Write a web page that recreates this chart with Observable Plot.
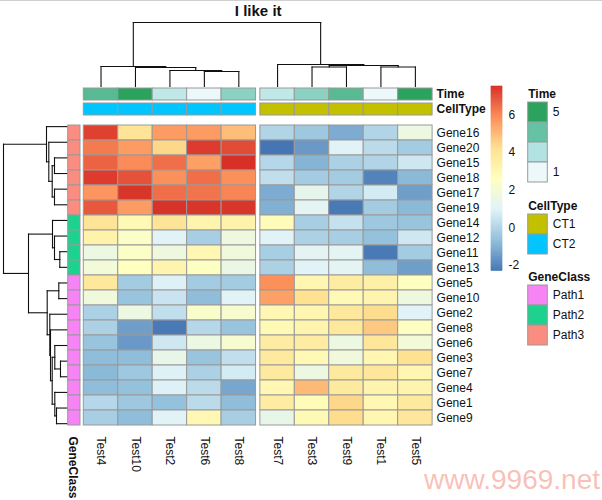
<!DOCTYPE html>
<html><head><meta charset="utf-8">
<script src="https://cdn.jsdelivr.net/npm/d3@7"></script>
<script src="https://cdn.jsdelivr.net/npm/@observablehq/plot@0.6"></script>
<style>
html,body{margin:0;padding:0;background:#fff;}
#chart{position:relative;width:602px;height:500px;overflow:hidden;font-family:"Liberation Sans",Arial,sans-serif;background:#fff;}
#chart svg{position:absolute;left:0;top:0;}
#topline{position:absolute;left:0;top:0;width:602px;height:1px;background:#cfcfcf;}
#wm{position:absolute;right:2px;bottom:5px;font-size:28px;line-height:30px;color:rgba(242,130,110,0.5);font-family:"Liberation Sans",Arial,sans-serif;}
</style></head>
<body><div id="chart"><div id="topline"></div><div id="wm">www.9969.net</div></div>
<script>
// ---------------- data ----------------
const title = "I like it";
const columns = ["Test4","Test10","Test2","Test6","Test8","Test7","Test3","Test9","Test1","Test5"];
const genes = ["Gene16","Gene20","Gene15","Gene18","Gene17","Gene19","Gene14","Gene12","Gene11","Gene13",
               "Gene5","Gene10","Gene2","Gene8","Gene6","Gene3","Gene7","Gene4","Gene1","Gene9"];
const times = [4, 5, 2, 1, 3, 2, 3, 4, 1, 5];
const cellTypes = ["CT2","CT2","CT2","CT2","CT2","CT1","CT1","CT1","CT1","CT1"];
const geneClass = ["Path3","Path3","Path3","Path3","Path3","Path3","Path2","Path2","Path2","Path2",
                   "Path1","Path1","Path1","Path1","Path1","Path1","Path1","Path1","Path1","Path1"];
// rows follow `genes`, columns follow `columns`
const values = [
  [7.2, 4.0, 5.6, 5.6, 4.9,   0.0, -0.4, -1.1,  0.0,  1.6],
  [6.2, 5.6, 4.4, 7.3, 7.0,  -2.3, -1.5,  1.0,  0.2, -0.3],
  [6.6, 5.9, 6.4, 5.5, 7.5,   0.1, -0.9, -0.1,  0.0,  0.6],
  [7.3, 6.9, 5.8, 6.4, 5.8,   0.3, -0.3, -0.3, -2.0, -0.8],
  [5.7, 7.4, 6.4, 6.3, 6.0,  -1.1,  1.3,  0.0,  0.7, -1.4],
  [6.8, 5.6, 7.45,7.4, 7.4,  -1.0,  1.1, -2.2, -0.3, -0.8],
  [4.0, 2.9, 4.0, 3.2, 3.3,   2.8, -0.2,  0.4, -0.4, -0.5],
  [3.3, 2.4, 1.0,-0.2, 1.7,   1.0, -0.1, -0.2, -0.6,  0.6],
  [1.6, 2.4, 1.7, 3.0, 1.8,  -0.2,  1.1,  1.1, -2.2, -0.3],
  [1.9, 2.6, 3.2, 2.5, 1.5,  -0.1,  1.0,  1.1, -0.7, -1.4],
  [3.8,-0.3, 0.9,-0.3,-0.3,   5.8,  3.1,  3.6,  3.4,  2.6],
  [1.8,-0.5, 0.5,-0.7, 1.0,   5.5,  4.2,  2.9,  3.2,  1.7],
  [-0.1,1.6, 0.3, 2.3, 2.1,   3.0,  3.1,  3.8,  4.3,  1.0],
  [-0.1,-1.4,-2.2,0.1,-0.5,   2.9,  3.2,  3.8,  4.7,  2.5],
  [-0.5,-1.5,0.6, 1.6, 2.1,   3.6,  3.6,  1.6,  3.9,  1.9],
  [-0.7,-0.7,1.4,-0.5, 0.3,   3.7,  2.9,  1.8,  3.1,  4.2],
  [-0.8,-0.4,0.9,-0.1, 0.7,   3.7,  1.6,  3.7,  3.9,  3.1],
  [-0.7,-0.6,0.9, 0.2,-1.2,   3.0,  5.0,  3.7,  3.2,  3.2],
  [0.1,-0.4,-0.6, 0.2,-0.7,   3.6,  2.8,  4.4,  3.0,  3.7],
  [-0.2,-0.7,1.0, 3.0,-0.2,   1.4,  2.9,  4.3,  3.1,  3.9]
];
// dendrograms: [childA, childB, height]; a number refers to an earlier merge
const colMerges = [
  ["Test6","Test8",15], ["Test2",0,16], ["Test10",1,19], ["Test4",2,20],
  ["Test3","Test9",19.5], ["Test1","Test5",19.5], [4,5,21], ["Test7",6,22], [3,7,64]
];
const rowMerges = [
  ["Gene15","Gene18",14], ["Gene17","Gene19",14], [0,1,16.3], ["Gene20",2,19.7], ["Gene16",3,22],
  ["Gene11","Gene13",8.7], ["Gene12",5,14], ["Gene14",6,16],
  ["Gene5","Gene10",9.7], ["Gene3","Gene7",8], ["Gene6",9,13.7], ["Gene1","Gene9",12], ["Gene4",11,13.7],
  [10,12,16.3], ["Gene8",13,18], ["Gene2",14,18.7], [8,15,21.3], [7,16,40], [4,17,65]
];
const heatColors = ["#4575B4","#91BFDB","#E0F3F8","#FFFFBF","#FEE090","#FC8D59","#D73027"];
const timeColors = ["#EDF8FB","#B2E2E2","#66C2A4","#2CA25F"];
const cellTypeLevels = ["CT1","CT2"];
const cellTypeColors = ["#C3C000","#00C5FF"];
const geneClassLevels = ["Path1","Path2","Path3"];
const geneClassColors = ["#F784F5","#1DD28F","#FA8C80"];

// ---------------- layout ----------------
const W = 602, H = 500;
const hm = {left: 83.3, right: 432.1, top: 118.3, bottom: 431};
const gapUnits = 0.125;
const font = '"Liberation Sans", Arial, sans-serif';
const style = {position: "absolute", left: "0px", top: "0px", background: "transparent", fontFamily: font, fontSize: "12px", overflow: "visible"};
const chart = document.getElementById("chart");
const add = p => chart.appendChild(p);

const colStart = i => i + (cellTypes[i] === cellTypes[0] ? 0 : gapUnits);
const xDomain = [0, columns.length + gapUnits];
const [vmin, vmax] = d3.extent(values.flat());
const colorDomain = d3.range(heatColors.length).map(k => vmin + k * (vmax - vmin) / (heatColors.length - 1));
const colorOpts = {type: "linear", domain: colorDomain, range: heatColors};
const timeExt = d3.extent(times);
const timeScale = d3.scaleLinear()
  .domain(d3.range(timeColors.length).map(k => timeExt[0] + k * (timeExt[1] - timeExt[0]) / (timeColors.length - 1)))
  .range(timeColors);
const ctColor = c => cellTypeColors[cellTypeLevels.indexOf(c)];
const gcColor = c => geneClassColors[geneClassLevels.indexOf(c)];

function dendroSegments(merges, leafPos) {
  const pos = [], hgt = [], segs = [];
  const P = c => typeof c === "number" ? pos[c] : leafPos(c);
  const Hh = c => typeof c === "number" ? hgt[c] : 0;
  merges.forEach(([a, b, h], k) => {
    const pa = P(a), pb = P(b);
    segs.push({p1: pa, h1: Hh(a), p2: pa, h2: h});
    segs.push({p1: pb, h1: Hh(b), p2: pb, h2: h});
    segs.push({p1: pa, h1: h, p2: pb, h2: h});
    pos[k] = (pa + pb) / 2; hgt[k] = h;
  });
  return segs;
}

// ---------------- heatmap ----------------
const cells = genes.flatMap((g, r) => columns.map((c, i) => ({gene: g, i, value: values[r][i]})));
add(Plot.plot({
  width: W, height: H, style,
  marginLeft: hm.left, marginRight: W - hm.right, marginTop: hm.top, marginBottom: H - hm.bottom,
  x: {domain: xDomain, axis: null},
  y: {domain: genes, axis: null, padding: 0},
  color: colorOpts,
  marks: [
    Plot.barX(cells, {x1: d => colStart(d.i), x2: d => colStart(d.i) + 1, y: "gene", fill: "value", stroke: "#999", strokeWidth: 1}),
    Plot.text(genes, {x: xDomain[1], y: d => d, dx: 4, textAnchor: "start", fill: "#111"}),
    Plot.text(columns, {x: (d, i) => colStart(i) + 0.5, frameAnchor: "bottom", lineAnchor: "middle", dy: 5, rotate: 90, textAnchor: "start", fill: "#111"})
  ]
}));

// ---------------- column annotations ----------------
const annRows = ["Time", "CellType"];
add(Plot.plot({
  width: W, height: H, style,
  marginLeft: hm.left, marginRight: W - hm.right, marginTop: 88, marginBottom: H - 115,
  x: {domain: xDomain, axis: null},
  y: {domain: annRows, axis: null, paddingInner: 0.2, paddingOuter: 0},
  marks: [
    Plot.barX(columns, {x1: (d, i) => colStart(i), x2: (d, i) => colStart(i) + 1, y: () => "Time", fill: (d, i) => timeScale(times[i]), stroke: "#999"}),
    Plot.barX(columns, {x1: (d, i) => colStart(i), x2: (d, i) => colStart(i) + 1, y: () => "CellType", fill: (d, i) => ctColor(cellTypes[i]), stroke: "#999"}),
    Plot.text(annRows, {x: xDomain[1], y: d => d, dx: 4, textAnchor: "start", fontWeight: "bold", fill: "#111"})
  ]
}));

// ---------------- column dendrogram + title ----------------
const colSegs = dendroSegments(colMerges, c => colStart(columns.indexOf(c)) + 0.5);
add(Plot.plot({
  width: W, height: H, style,
  marginLeft: hm.left, marginRight: W - hm.right, marginTop: 22, marginBottom: H - 86,
  x: {domain: xDomain, axis: null},
  y: {domain: [0, d3.max(colMerges, d => d[2])], axis: null},
  marks: [
    Plot.link(colSegs, {x1: "p1", y1: "h1", x2: "p2", y2: "h2", stroke: "#111", strokeWidth: 1.1, strokeLinecap: "square"}),
    Plot.text([title], {frameAnchor: "top", lineAnchor: "middle", dy: -11, fontSize: 15, fontWeight: "bold", fill: "#111"})
  ]
}));

// ---------------- row dendrogram ----------------
const rowSegs = dendroSegments(rowMerges, g => genes.indexOf(g) + 0.5);
add(Plot.plot({
  width: W, height: H, style,
  marginLeft: 3, marginRight: W - 68, marginTop: hm.top, marginBottom: H - hm.bottom,
  x: {domain: [d3.max(rowMerges, d => d[2]), 0], axis: null},
  y: {domain: [genes.length, 0], axis: null},
  marks: [
    Plot.link(rowSegs, {x1: "h1", y1: "p1", x2: "h2", y2: "p2", stroke: "#111", strokeWidth: 1.1, strokeLinecap: "square"})
  ]
}));

// ---------------- row annotation ----------------
add(Plot.plot({
  width: W, height: H, style,
  marginLeft: 67.7, marginRight: W - 80, marginTop: hm.top, marginBottom: H - hm.bottom,
  x: {axis: null},
  y: {domain: genes, axis: null, padding: 0},
  marks: [
    Plot.cell(genes, {y: d => d, fill: (d, i) => gcColor(geneClass[i]), stroke: "#999"}),
    Plot.text(["GeneClass"], {frameAnchor: "bottom", lineAnchor: "middle", dx: -1.5, dy: 5, rotate: 90, textAnchor: "start", fontWeight: "bold", fill: "#111"})
  ]
}));

// ---------------- colour bar ----------------
const nSteps = 100, step = (vmax - vmin) / nSteps;
const steps = d3.range(nSteps).map(k => vmin + k * step);
add(Plot.plot({
  width: W, height: H, style,
  marginLeft: 491, marginRight: W - 502, marginTop: 86, marginBottom: H - 270.5,
  x: {axis: null},
  y: {domain: [vmin, vmax], axis: null},
  color: colorOpts,
  marks: [
    Plot.barY(steps, {y1: d => d, y2: d => d + step, fill: d => d + step / 2, stroke: d => d + step / 2, strokeWidth: 0.6}),
    Plot.axisY(d3.ticks(vmin, vmax, 5), {anchor: "right", tickSize: 0, tickPadding: 6, tickFormat: d => String(d), label: null, fill: "#111"})
  ]
}));

// ---------------- annotation legends ----------------
function legend({top, colors, labels, name}) {
  const n = colors.length, idx = d3.range(n), sw = 20.2;
  return Plot.plot({
    width: W, height: H, style,
    marginLeft: 527.7, marginRight: W - 547.3, marginTop: top, marginBottom: H - (top + n * sw),
    x: {axis: null},
    y: {domain: idx, axis: null, padding: 0},
    marks: [
      Plot.cell(idx, {y: d => d, fill: d => colors[d], stroke: "#999"}),
      Plot.text(idx, {y: d => d, text: d => labels[d], frameAnchor: "right", dx: 5, textAnchor: "start", fill: "#111"}),
      Plot.text([name], {frameAnchor: "top-left", lineAnchor: "middle", dy: -8.7, textAnchor: "start", fontWeight: "bold", fill: "#111"})
    ]
  });
}
const timeLegendColors = timeColors.slice().reverse();
add(legend({top: 102, name: "Time", colors: timeLegendColors,
  labels: timeLegendColors.map((c, k) => k === 0 ? String(timeExt[1]) : k === timeLegendColors.length - 1 ? String(timeExt[0]) : "")}));
add(legend({top: 214, name: "CellType", colors: cellTypeColors, labels: cellTypeLevels}));
add(legend({top: 285, name: "GeneClass", colors: geneClassColors, labels: geneClassLevels}));
</script>
</body></html>
